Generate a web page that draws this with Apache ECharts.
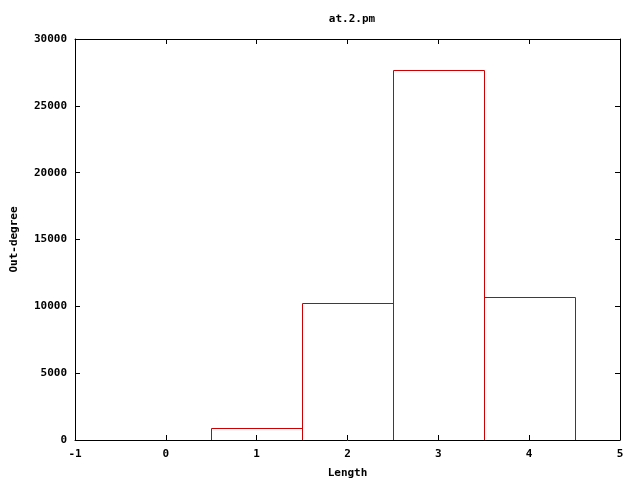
<!DOCTYPE html>
<html><head><meta charset="utf-8">
<script src="https://cdn.jsdelivr.net/npm/echarts@6/dist/echarts.min.js"></script>
<style>html,body{margin:0;padding:0;background:#fff}#c{width:640px;height:480px}</style>
</head><body><div id="c"></div>
<script>
const title = "at.2.pm";
const xName = "Length";
const yName = "Out-degree";
const lengths = [0, 1, 2, 3, 4];
const outDegree = [0, 870, 10220, 27650, 10670];
const binWidth = 1;

const font = "DejaVu Sans Mono";
const data = lengths.map((l, i) => [l, outDegree[i]]);
const chart = echarts.init(document.getElementById('c'), null, {renderer: 'canvas'});
const tickStyle = {show: true, inside: true, length: 5, lineStyle: {color: '#000', width: 1}};
const lineStyle = {show: true, onZero: false, lineStyle: {color: '#000', width: 1}};
const labelStyle = {color: '#000', fontFamily: font, fontWeight: 'bold', fontSize: 11};
const plain = v => String(v);
chart.setOption({
  animation: false,
  title: {text: title, left: 347, top: 9, textAlign: 'center',
    textStyle: {fontFamily: font, fontWeight: 'bold', fontSize: 11, color: '#000'}},
  grid: {left: 75, right: 20, top: 39, bottom: 40, containLabel: false, outerBoundsMode: 'none', z: 5},
  xAxis: [
    {type: 'value', min: -1, max: 5, interval: 1, position: 'bottom', z: 5,
     name: xName, nameLocation: 'middle', nameGap: 28,
     nameTextStyle: labelStyle,
     axisLine: lineStyle, axisTick: tickStyle, splitLine: {show: false},
     axisLabel: Object.assign({margin: 9, formatter: plain}, labelStyle)},
    {type: 'value', min: -1, max: 5, interval: 1, position: 'top', z: 5,
     axisLine: lineStyle, axisTick: tickStyle, splitLine: {show: false},
     axisLabel: {show: false}}
  ],
  yAxis: [
    {type: 'value', min: 0, max: 30000, interval: 5000, position: 'left', z: 5,
     name: yName, nameLocation: 'middle', nameGap: 55, nameRotate: 90,
     nameTextStyle: labelStyle,
     axisLine: lineStyle, axisTick: tickStyle, splitLine: {show: false},
     axisLabel: Object.assign({margin: 8, formatter: plain, padding: [3, 0, 0, 0]}, labelStyle)},
    {type: 'value', min: 0, max: 30000, interval: 5000, position: 'right', z: 5,
     axisLine: lineStyle, axisTick: tickStyle, splitLine: {show: false},
     axisLabel: {show: false}}
  ],
  series: [{
    type: 'custom',
    xAxisIndex: 0, yAxisIndex: 0, z: 1,
    data: data,
    renderItem: function (params, api) {
      const x = api.value(0), y = api.value(1);
      if (y <= 0) return null;
      const p0 = api.coord([x - binWidth / 2, y]);
      const p1 = api.coord([x + binWidth / 2, 0]);
      const x0 = Math.round(p0[0]) + 0.5, x1 = Math.round(p1[0]) + 0.5;
      const y0 = Math.round(p0[1]) + 0.5, y1 = Math.round(p1[1]) + 0.5;
      return {
        type: 'polyline',
        shape: {points: [[x0, y1], [x0, y0], [x1, y0], [x1, y1]]},
        style: {fill: null, stroke: '#cc0000', lineWidth: 1}
      };
    }
  }]
});
</script></body></html>
